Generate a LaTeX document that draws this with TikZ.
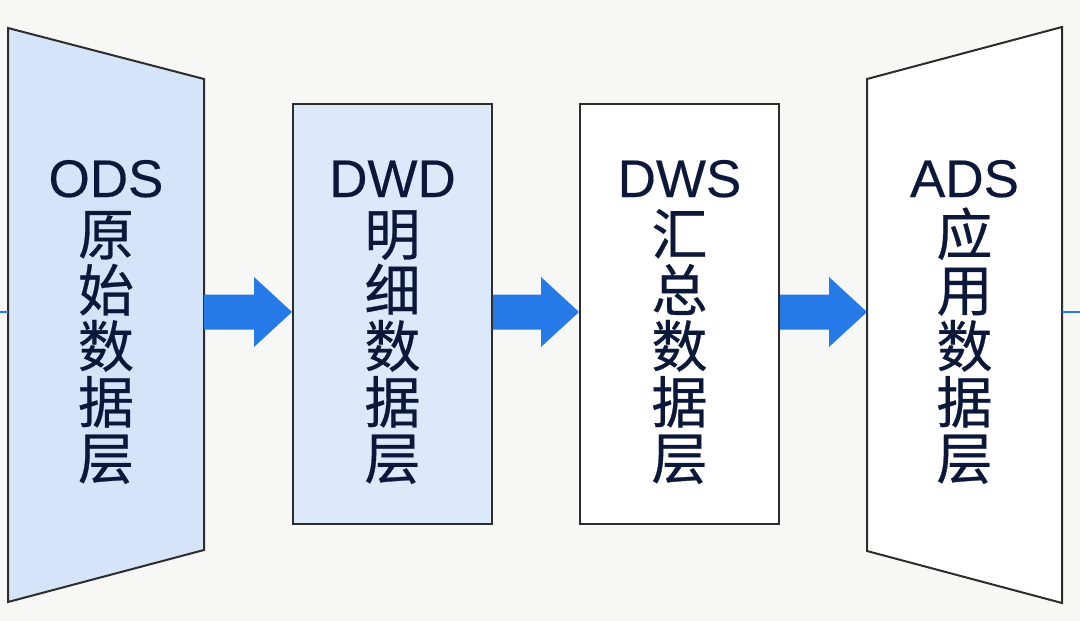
\documentclass[tikz,border=0pt]{standalone}
\usepackage{fontspec}
\setmainfont{Liberation Sans}
\newfontfamily\cjk[FakeBold=0.5]{Noto Sans CJK SC}
\newfontfamily\latinlbl[FakeBold=0.3]{Liberation Sans}
\usetikzlibrary{calc}
\definecolor{bg}{RGB}{247,247,245}
\definecolor{edgec}{RGB}{45,45,45}
\definecolor{odsfill}{RGB}{213,228,249}
\definecolor{dwdfill}{RGB}{220,233,250}
\definecolor{arrowblue}{RGB}{38,122,232}
\definecolor{inkc}{RGB}{12,24,58}
\newcommand\layertext[2]{\vtop{\cjk\fontsize{56}{56}\selectfont\lineskiplimit=-200pt
  \halign{\hfil##\hfil\cr {\latinlbl\fontsize{53}{56}\selectfont #1}\cr\noalign{\kern2pt}#2\cr}}}
\newcommand\blockarrow[2]{%
  \fill[arrowblue] ($(#1)+(0,-17.5)$) -- ($(#2)+(-38,-17.5)$) -- ($(#2)+(-38,-35)$) -- (#2)
    -- ($(#2)+(-38,35)$) -- ($(#2)+(-38,17.5)$) -- ($(#1)+(0,17.5)$) -- cycle;}
\tikzset{
  layer/.style={draw=edgec, line width=2pt, line join=miter},
  boxnode/.style={layer, rectangle, inner sep=0pt, minimum width=199pt, minimum height=420pt},
  labeltext/.style={anchor=base, inner sep=0pt, text=inkc},
  thinline/.style={draw=arrowblue, line width=1.5pt}
}
\begin{document}
\begin{tikzpicture}[x=1pt,y=-1pt]
\fill[bg] (0,0) rectangle (1080,621);
\useasboundingbox (0,0) rectangle (1080,621);
% ODS trapezoid
\filldraw[layer, fill=odsfill] (8,28) -- (204,79) -- (204,550) -- (8,602) -- cycle;
\coordinate (odsW) at (8,312);
\coordinate (odsE) at (204,312);
% DWD / DWS boxes
\node[boxnode, fill=dwdfill] (dwdbox) at (392.5,314) {};
\node[boxnode, fill=white] (dwsbox) at (679.5,314) {};
% ADS trapezoid
\filldraw[layer, fill=white] (867,79) -- (1062,27) -- (1062,603) -- (867,551) -- cycle;
\coordinate (adsW) at (867,312);
\coordinate (adsE) at (1062,312);
% thin lines at edges
\coordinate (leftend) at (0,312);
\coordinate (rightend) at (1080,312);
\draw[thinline] (leftend) -- (odsW);
\draw[thinline] (adsE) -- (rightend);
% arrows
\coordinate (t1) at (dwdbox.west |- odsE);
\coordinate (s2) at (dwdbox.east |- odsE);
\coordinate (t2) at (dwsbox.west |- odsE);
\coordinate (s3) at (dwsbox.east |- odsE);
\blockarrow{odsE}{t1}
\blockarrow{s2}{t2}
\blockarrow{s3}{adsW}
% texts
\node[labeltext] (ods) at (106,197) {\layertext{ODS}{原\cr 始\cr 数\cr 据\cr 层}};
\node[labeltext] (dwd) at (392.5,197) {\layertext{DWD}{明\cr 细\cr 数\cr 据\cr 层}};
\node[labeltext] (dws) at (679.5,197) {\layertext{DWS}{汇\cr 总\cr 数\cr 据\cr 层}};
\node[labeltext] (ads) at (964.5,197) {\layertext{ADS}{应\cr 用\cr 数\cr 据\cr 层}};
\end{tikzpicture}
\end{document}
